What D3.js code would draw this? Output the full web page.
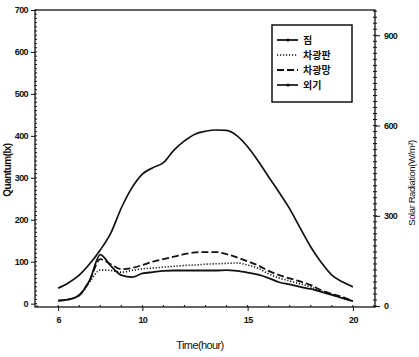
<!DOCTYPE html>
<html><head><meta charset="utf-8">
<script src="https://cdn.jsdelivr.net/npm/d3@7"></script>
<style>
html,body{margin:0;padding:0;background:#fff;}
svg{display:block;}
text{font-family:"Liberation Sans",Arial,sans-serif;fill:#111;}
</style></head>
<body>
<svg id="c" width="419" height="357"></svg>
<script>
// ---- data ----
const hours = [6,6.5,7,7.5,8,8.5,9,9.5,10,10.5,11,11.5,12,12.5,13,13.5,14,14.5,15,15.5,16,16.5,17,17.5,18,18.5,19,19.5,20];
const seriesNames = ["짐","차광판","차광망","외기"];
const jip      = [7,10,20,56,117,90,68,63,72,75,78,79,79,79,79,79,80,78,74,69,61,51,46,40,35,28,21,13,6];
const panel    = [7,10,20,52,80,79,75,79,83,85,87,89,91,92,94,95,96,97,92,84,71,61,54,47,40,30,23,13,6];
const net      = [7,10,20,56,106,94,82,85,92,100,106,112,118,122,123,123,118,110,101,91,78,68,60,53,44,32,23,16,6];
const outside  = [37,50,68,95,128,168,228,276,309,324,336,366,388,404,411,414,413,400,374,340,302,265,226,180,135,98,68,52,40];
const xTicks = [6,10,15,20];
const yTicks = [0,100,200,300,400,500,600,700];
const y2Ticks = [0,300,600,900];
const xLabel = "Time(hour)";
const yLabel = "Quantum(lx)";
const y2Label = "Solar Radiation(W/m²)";

const svg = d3.select("#c");
const L=35, R=375, T=10, B=307;
const x = d3.scaleLinear().domain([4.9,21.05]).range([L,R]);
const y = d3.scaleLinear().domain([-8,700]).range([B,T]);
const y2 = d3.scaleLinear().domain([-3,984]).range([B,T]);

// frame
svg.append("rect").attr("x",L).attr("y",T).attr("width",R-L).attr("height",B-T)
  .attr("fill","none").attr("stroke","#111").attr("stroke-width",1.3);

// left axis
const gy = svg.append("g").attr("transform",`translate(${L},0)`)
  .call(d3.axisLeft(y).tickValues(yTicks).tickSize(4).tickPadding(3).tickFormat(d3.format("d")));
gy.select(".domain").remove();
gy.append("g").selectAll("line").data(d3.range(0,701,10)).join("line")
  .attr("x1",0).attr("x2",2).attr("y1",d=>y(d)).attr("y2",d=>y(d)).attr("stroke","#111");
// right axis
const gy2 = svg.append("g").attr("transform",`translate(${R},0)`)
  .call(d3.axisRight(y2).tickValues(y2Ticks).tickSize(5).tickPadding(4).tickFormat(d3.format("d")));
gy2.select(".domain").remove();
gy2.append("g").selectAll("line").data(d3.range(0,981,20)).join("line")
  .attr("x1",-2).attr("x2",2).attr("y1",d=>y2(d)).attr("y2",d=>y2(d)).attr("stroke","#111");
// bottom axis
const gx = svg.append("g").attr("transform",`translate(0,${B})`)
  .call(d3.axisBottom(x).tickValues(xTicks).tickSize(4).tickPadding(6).tickFormat(d3.format("d")));
gx.select(".domain").remove();
gx.append("g").selectAll("line").data(d3.range(5,21.01,1)).join("line")
  .attr("x1",d=>x(d)).attr("x2",d=>x(d)).attr("y1",0).attr("y2",-2).attr("stroke","#111");
svg.selectAll(".tick line").attr("stroke","#111");
svg.selectAll(".tick text").attr("font-size",9).attr("font-weight","bold").attr("letter-spacing","-0.6px").attr("fill","#111");

// labels
svg.append("text").attr("x",200).attr("y",349).attr("text-anchor","middle")
  .attr("font-size",11).attr("letter-spacing","-0.6px").text(xLabel);
svg.append("text").attr("transform","translate(11,170) rotate(-90)").attr("text-anchor","middle")
  .attr("font-size",10).attr("font-weight","bold").attr("letter-spacing","-0.5px").text(yLabel);
svg.append("text").attr("transform","translate(415,183) rotate(-90)").attr("text-anchor","middle")
  .attr("font-size",9.5).attr("letter-spacing","-0.4px").text(y2Label);

// lines
const styles = [
  {data:jip, dash:null, w:1.8},
  {data:panel, dash:"1.2,1.8", w:1.6},
  {data:net, dash:"7,3", w:1.8},
  {data:outside, dash:null, w:1.7}
];
const line = d3.line().x((d,i)=>x(hours[i])).y(d=>y(d)).curve(d3.curveMonotoneX);
styles.forEach(s=>{
  svg.append("path").datum(s.data).attr("d",line).attr("fill","none")
    .attr("stroke","#111").attr("stroke-width",s.w)
    .attr("stroke-dasharray",s.dash);
});

// legend
const lg = svg.append("g");
lg.append("rect").attr("x",272).attr("y",25).attr("width",80).attr("height",77)
  .attr("fill","#fff").attr("stroke","#111").attr("stroke-width",1.5);
const ly = [40,55,70,85];
seriesNames.forEach((n,i)=>{
  const s = styles[i];
  lg.append("line").attr("x1",277).attr("x2",298).attr("y1",ly[i]).attr("y2",ly[i])
    .attr("stroke","#111").attr("stroke-width",s.w).attr("stroke-dasharray",s.dash);
  if(i===0||i===3) lg.append("circle").attr("cx",288).attr("cy",ly[i]).attr("r",1.6).attr("fill","#111");
  lg.append("text").attr("x",303).attr("y",ly[i]).attr("dy","0.36em")
    .attr("font-size",10).attr("font-weight","bold")
    .style("font-family","'Noto Sans CJK KR',sans-serif").text(n);
});
</script>
</body></html>
